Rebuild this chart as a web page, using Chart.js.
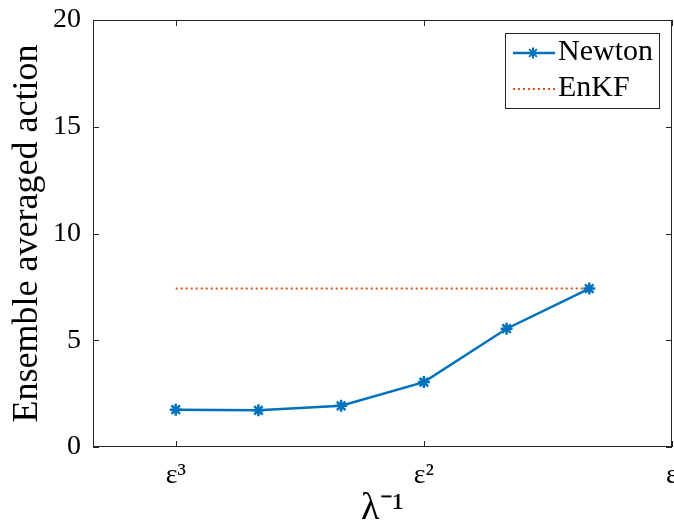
<!DOCTYPE html>
<html>
<head>
<meta charset="utf-8">
<script src="https://cdn.jsdelivr.net/npm/chart.js@4.4.0/dist/chart.umd.min.js"></script>
<style>
html,body{margin:0;padding:0;background:#fff;}
#wrap{width:674px;height:532px;}
</style>
</head>
<body>
<div id="wrap"><canvas id="myChart" width="674" height="532"></canvas></div>
<script>
// x values are -k for lambda^-1 = eps^k, so eps^3 sits on the left
const lambda_inv_exp = [-3, -8/3, -7/3, -2, -5/3, -4/3];
const newton_action = [1.75, 1.72, 1.93, 3.04, 5.54, 7.42];
const enkf_exp = [-3, -4/3];
const enkf_action = [7.42, 7.42];
const x_tick_values = [-3, -2, -1];
const x_tick_labels = ['ε³', 'ε²', 'ε'];
const y_tick_values = [0, 5, 10, 15, 20];

const serif = 'Liberation Serif';
const axis_color = '#262626';

function to_points(xs, ys){
    let pts = [];
    for (let i = 0; i < xs.length; i++){
        pts.push({x: xs[i], y: ys[i]});
    }
    return pts;
}

// box round the axes, inward ticks on all four sides, and the legend box
const frame_plugin = {
    id: 'frame',
    afterDraw(chart){
        const ctx = chart.ctx;
        const ca = chart.chartArea;
        const xs = chart.scales.x;
        const ys = chart.scales.y;
        const tick_len = 6;
        ctx.save();
        ctx.strokeStyle = axis_color;
        ctx.lineWidth = 1;
        ctx.strokeRect(ca.left + 0.5, ca.top + 0.5, ca.right - ca.left - 1, ca.bottom - ca.top - 1);
        ctx.beginPath();
        x_tick_values.forEach(v => {
            const px = Math.round(xs.getPixelForValue(v)) + 0.5;
            ctx.moveTo(px, ca.bottom); ctx.lineTo(px, ca.bottom - tick_len);
            ctx.moveTo(px, ca.top); ctx.lineTo(px, ca.top + tick_len);
        });
        y_tick_values.forEach(v => {
            const py = Math.round(ys.getPixelForValue(v)) + 0.5;
            ctx.moveTo(ca.left, py); ctx.lineTo(ca.left + tick_len, py);
            ctx.moveTo(ca.right, py); ctx.lineTo(ca.right - tick_len, py);
        });
        ctx.stroke();

        // legend
        const bx = 505, by = 33, bw = 154, bh = 75;
        ctx.fillStyle = '#fff';
        ctx.fillRect(bx, by, bw, bh);
        ctx.strokeStyle = axis_color;
        ctx.strokeRect(bx + 0.5, by + 0.5, bw, bh);
        chart.data.datasets.forEach((ds, i) => {
            const ly = by + 20 + i * 36;
            ctx.strokeStyle = ds.borderColor;
            ctx.lineWidth = ds.borderWidth;
            ctx.setLineDash(ds.borderDash || []);
            ctx.beginPath();
            ctx.moveTo(bx + 8, ly);
            ctx.lineTo(bx + 50, ly);
            ctx.stroke();
            ctx.setLineDash([]);
            if (ds.pointRadius > 0){
                ctx.lineWidth = 2;
                ctx.strokeStyle = ds.pointBorderColor;
                Chart.helpers.drawPoint(ctx, {pointStyle: 'star', radius: 5.5, borderWidth: 2}, bx + 28, ly);
            }
            ctx.fillStyle = '#000';
            ctx.font = '30px ' + serif;
            ctx.textBaseline = 'alphabetic';
            ctx.fillText(ds.label, bx + 53, ly + 7);
        });
        ctx.restore();
    }
};

const ctx = document.getElementById('myChart').getContext('2d');
const myChart = new Chart(ctx, {
    type: 'line',
    data: {
        datasets: [
            {
                label: 'Newton',
                data: to_points(lambda_inv_exp, newton_action),
                borderColor: '#0072BD',
                backgroundColor: '#0072BD',
                pointBorderColor: '#0072BD',
                borderWidth: 2.5,
                pointStyle: 'star',
                pointRadius: 6,
                pointBorderWidth: 2.5,
                tension: 0
            },
            {
                label: 'EnKF',
                data: to_points(enkf_exp, enkf_action),
                borderColor: '#D95319',
                backgroundColor: '#D95319',
                borderWidth: 2,
                borderDash: [2, 3],
                pointRadius: 0,
                tension: 0
            }
        ]
    },
    options: {
        responsive: false,
        animation: false,
        layout: {autoPadding: false, padding: {top: 20, right: 2, left: 0, bottom: 0}},
        plugins: {
            legend: {display: false},
            tooltip: {enabled: false}
        },
        scales: {
            x: {
                type: 'linear',
                min: -10/3,
                max: -1,
                afterFit: function(scale){
                    scale.height = 85;
                    scale.paddingLeft = 0;
                    scale.paddingRight = 0;
                },
                afterBuildTicks: function(scale){
                    scale.ticks = x_tick_values.map(v => ({value: v}));
                },
                grid: {display: false},
                border: {display: false},
                ticks: {
                    color: '#000',
                    padding: 4,
                    maxRotation: 0,
                    autoSkip: false,
                    font: {family: serif, size: 28},
                    callback: function(value){
                        const i = x_tick_values.indexOf(value);
                        return i >= 0 ? x_tick_labels[i] : '';
                    }
                },
                title: {
                    display: true,
                    text: 'λ⁻¹',
                    color: '#000',
                    font: {family: serif, size: 38},
                    padding: {top: 0, bottom: 0}
                }
            },
            y: {
                min: 0,
                max: 20,
                afterFit: function(scale){
                    scale.width = 93;
                    scale.paddingTop = 0;
                    scale.paddingBottom = 0;
                },
                afterBuildTicks: function(scale){
                    scale.ticks = y_tick_values.map(v => ({value: v}));
                },
                grid: {display: false},
                border: {display: false},
                ticks: {
                    color: '#000',
                    padding: 4,
                    font: {family: serif, size: 28}
                },
                title: {
                    display: true,
                    text: 'Ensemble averaged action',
                    color: '#000',
                    font: {family: serif, size: 36},
                    padding: {top: 6, bottom: 0}
                }
            }
        }
    },
    plugins: [frame_plugin]
});
</script>
</body>
</html>
